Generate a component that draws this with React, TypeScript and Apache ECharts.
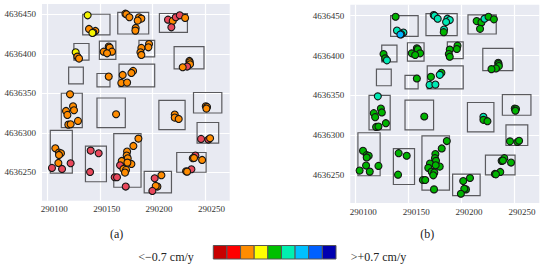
import React, { useEffect, useRef } from "react";
import * as echarts from "echarts";

const xTicks = [290100, 290150, 290200, 290250];
const yTicks = [4636250, 4636300, 4636350, 4636400, 4636450];

// x0, y0, x1, y1 of the surveyed blocks
const blocks = [
  [290133.4, 4636424, 290159.4, 4636450],
  [290166.8, 4636425, 290196.3, 4636452.5],
  [290206.5, 4636427, 290233.2, 4636451],
  [290125, 4636392, 290139.4, 4636413],
  [290149.3, 4636393, 290165, 4636416],
  [290187, 4636396, 290202, 4636417],
  [290220.5, 4636381, 290249, 4636409],
  [290120, 4636362, 290134, 4636383],
  [290147, 4636358, 290159.4, 4636375],
  [290168, 4636358, 290202, 4636387],
  [290113, 4636306.5, 290133, 4636350],
  [290147, 4636306.5, 290174, 4636344],
  [290206, 4636304, 290231, 4636341],
  [290239, 4636325, 290266, 4636351],
  [290242.4, 4636287, 290263, 4636313],
  [290102.5, 4636249, 290123.5, 4636303],
  [290136, 4636238, 290156, 4636283],
  [290163, 4636231, 290189, 4636299],
  [290192, 4636224, 290218, 4636251],
  [290223, 4636250, 290251, 4636275],
];

const pointX = [
  38.1, 39.4, 45.5, 43.5, 42.6, 74.1, 75, 77.9, 87.1, 89.3, 85.8, 83.9, 83.6,
  114.7, 119.2, 122.1, 125.9, 131, 117.9, 26.7, 28.3, 29.9, 53.4, 58.2, 59.1,
  61.3, 56.6, 96.6, 96, 89.3, 88.4, 89.3, 135.1, 135.4, 135.7, 132.9, 128.7,
  58.2, 71.5, 81.4, 79.8, 70.2, 75.7, 21.3, 17.5, 18.8, 24.2, 25.1, 28.9, 19.7,
  21.9, 65.2, 121.1, 121.1, 124.9, 150.7, 151.9, 151.3, 146.2, 153.2, 154.8,
  7.3, 10.8, 12.7, 10.8, 10.2, 21.9, 4.1, 13.7, 41, 48.6, 40.4, 86.5, 81.7,
  75.7, 75.3, 76.3, 70.6, 79.8, 76, 69, 72.2, 74.7, 73.7, 63.9, 66.1, 74.4,
  108.4, 102, 104.6, 103, 99.8, 140.8, 138.3, 139.5, 147.2, 137, 131.9, 132.9,
].map((d) => 290100 + d);

const pointY = [
  198.7, 181.4, 178.9, 176.8, 176.4, 200.8, 200, 196.2, 196.2, 194.5, 192,
  182.7, 179.3, 193.2, 191.6, 196.2, 198.7, 195.4, 183.5, 151.9, 146.4, 143.9,
  152.7, 159.1, 157.8, 152.7, 150.6, 162.4, 158.2, 157.4, 151.9, 148.5, 140.9,
  139.2, 136.7, 133.8, 132.9, 121.1, 123.2, 128.3, 125.7, 113.1, 113.5, 98.7,
  77.6, 72.6, 83.5, 78.5, 65, 60.3, 60.8, 73.4, 73, 69.2, 67.5, 83.5, 82.7,
  80.6, 42.2, 41.4, 43, 30.4, 24.9, 24.1, 21.9, 11.8, 11.4, 5.5, 4.2, 27.4,
  24.1, 0.4, 42.6, 33.3, 26.2, 21.1, 17.7, 14.3, 10.5, 12.2, 8.9, 4.2, 3, -0.4,
  -6.3, -6.3, -18.1, -3.8, -7.6, -18.1, -17.3, -23.6, 21.1, 17.7, 18.1, 15.6,
  3.8, 1.3, 0.8,
].map((d) => 4636250 + d);

// r red, o orange, y yellow; one string per block
const classesA = [
  "yoooy", "oooooooo", "rorror", "yoo", "ooooo", "ooooo", "oooro", "o",
  "ooooo", "oooooooo", "o", "ooo", "ooo", "rro", "ooooorrr", "rrr",
  "oooooooorooorrr", "oroor", "roooroo",
].join("");
// g green, a aqua, b blue; one string per block
const classesB = [
  "gaaab", "aaaaaaag", "ggaggg", "gga", "ggggg", "ggggg", "ggggg", "g",
  "ggaaa", "aggggggg", "g", "agg", "ggg", "ggg", "gggggggg", "ggg",
  "ggggggggggggggg", "ggggg", "ggggggg",
].join("");

const pointColors: Record<string, string> = {
  r: "#e9485c",
  o: "#ff8c00",
  y: "#f4f400",
  g: "#00b400",
  a: "#00e8b4",
  b: "#00b4ff",
};
const scaleColors = [
  "#c80000", "#ff0000", "#ff8c00", "#ffff00", "#00c000",
  "#00f0b0", "#00c0ff", "#0060ff", "#0000b0",
];

const FONT = "'Liberation Serif', serif";

function blockSeries(index: number) {
  return {
    type: "custom",
    coordinateSystem: "cartesian2d",
    xAxisIndex: index,
    yAxisIndex: index,
    silent: true,
    z: 2,
    encode: { x: [0, 2], y: [1, 3] },
    data: blocks,
    renderItem: (_p: any, api: any) => {
      const a = api.coord([api.value(0), api.value(3)]);
      const b = api.coord([api.value(2), api.value(1)]);
      return {
        type: "rect",
        shape: { x: a[0], y: a[1], width: b[0] - a[0], height: b[1] - a[1] },
        style: { fill: "none", stroke: "#5a5a5e", lineWidth: 1.2 },
      };
    },
  };
}

function pointSeries(index: number, classes: string) {
  return {
    type: "scatter",
    xAxisIndex: index,
    yAxisIndex: index,
    symbolSize: 7,
    z: 3,
    silent: true,
    itemStyle: { borderColor: "#151515", borderWidth: 1.1, opacity: 1 },
    data: pointX.map((x, i) => ({
      value: [x, pointY[i]],
      itemStyle: { color: pointColors[classes[i]] },
    })),
  };
}

function xAxis(index: number, min: number, max: number, pad: number) {
  return {
    type: "value",
    gridIndex: index,
    min,
    max,
    axisLine: { show: false },
    axisTick: { show: false, customValues: xTicks },
    axisLabel: {
      customValues: xTicks,
      margin: 4,
      fontFamily: FONT,
      fontSize: 9,
      color: "#333",
      padding: [0, 0, 0, pad],
      formatter: (v: number) => String(v),
    },
    splitLine: { show: true, lineStyle: { color: "#ffffff", width: 1.2 } },
  };
}

function yAxis(index: number, min: number, max: number) {
  return {
    type: "value",
    gridIndex: index,
    min,
    max,
    axisLine: { show: false },
    axisTick: { show: false, customValues: yTicks },
    axisLabel: {
      customValues: yTicks,
      margin: 6,
      fontFamily: FONT,
      fontSize: 9,
      color: "#333",
      formatter: (v: number) => String(v),
    },
    splitLine: { show: true, lineStyle: { color: "#ffffff", width: 1.2 } },
  };
}

function caption(text: string, x: number, y: number, align: string) {
  return {
    type: "text",
    x,
    y,
    style: {
      text,
      fontFamily: FONT,
      fontSize: 12,
      fill: "#222",
      align,
      verticalAlign: "middle",
    },
  };
}

export default function App() {
  const ref = useRef<HTMLDivElement>(null);
  useEffect(() => {
    const chart = echarts.init(ref.current!, undefined, { renderer: "svg" });
    const cellW = (336 - 213.3) / scaleColors.length;
    chart.setOption({
      animation: false,
      backgroundColor: "#ffffff",
      grid: [
        { left: 42, top: 4, width: 187.7, height: 196.7, show: true, backgroundColor: "#e8eaf2", borderWidth: 0 },
        { left: 350.3, top: 4.7, width: 189, height: 198.3, show: true, backgroundColor: "#e8eaf2", borderWidth: 0 },
      ],
      xAxis: [xAxis(0, 290094.6, 290273.5, 13), xAxis(1, 290095.3, 290273.9, 16)],
      yAxis: [yAxis(0, 4636214, 4636463), yAxis(1, 4636214.8, 4636463.8)],
      series: [
        blockSeries(0),
        pointSeries(0, classesA),
        blockSeries(1),
        pointSeries(1, classesB),
      ],
      graphic: [
        caption("(a)", 116.7, 234, "center"),
        caption("(b)", 427.3, 234, "center"),
        caption("<\u22120.7 cm/y", 138.3, 256.5, "left"),
        caption(">+0.7 cm/y", 350.7, 256.5, "left"),
        ...scaleColors.map((c, i) => ({
          type: "rect",
          shape: { x: 213.3 + i * cellW, y: 245.5, width: cellW, height: 13.5 },
          style: { fill: c, stroke: "#555", lineWidth: 1 },
        })),
      ],
    });
    return () => chart.dispose();
  }, []);
  return (
    <div
      ref={ref}
      style={{ position: "absolute", left: 0, top: 0, width: 550, height: 266 }}
    />
  );
}
